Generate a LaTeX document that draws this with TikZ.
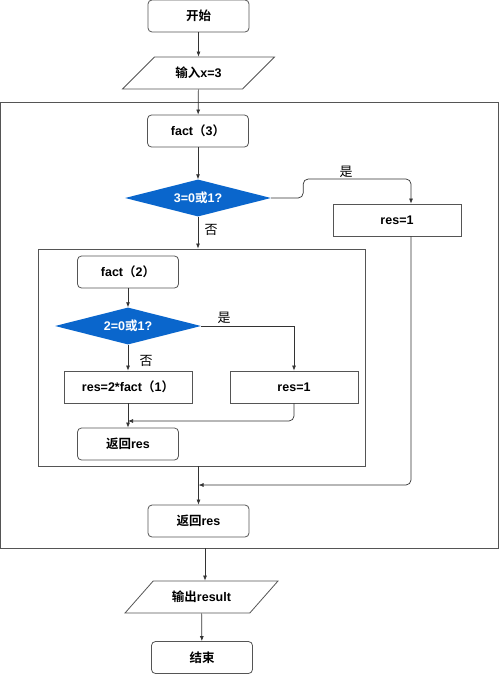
\documentclass[tikz,border=0pt]{standalone}
\usepackage{fontspec}
\setmainfont{Liberation Sans}
\newfontfamily\cjk{Noto Sans CJK SC}[BoldFont={Noto Sans CJK SC Bold}]
\newcommand{\zh}[1]{{\cjk #1}}
\usetikzlibrary{shapes.geometric,arrows.meta}
\definecolor{flowblue}{RGB}{10,102,204}
\definecolor{edgegray}{RGB}{85,85,85}
\begin{document}
\begin{tikzpicture}[
		x=1pt, y=-1pt,
		every node/.style={font=\bfseries\fontsize{12.5}{14}\selectfont},
		startend/.style={rectangle, draw=edgegray, line width=0.8pt, rounded corners=4pt, minimum width=101pt, minimum height=32pt},
		iobox/.style={trapezium, trapezium left angle=44, trapezium right angle=136, trapezium stretches=true, draw=edgegray, line width=0.8pt, minimum width=153pt, minimum height=32pt},
		procbox/.style={rectangle, draw=edgegray, line width=0.8pt, minimum width=128pt, minimum height=32pt},
		decision/.style={diamond, aspect=4, fill=flowblue, text=white, inner sep=0pt, minimum width=146pt, minimum height=37pt},
		frame/.style={rectangle, draw=edgegray, line width=0.9pt},
		lbl/.style={font=\fontsize{13}{15}\selectfont},
		flow/.style={draw=black!80, line width=0.7pt, -{Latex[length=5pt,width=4pt]}}
	]
	\useasboundingbox (0,0) rectangle (500,674);
	\node[frame, minimum width=498pt, minimum height=446pt] (outer) at (249.5,325) {};
	\node[frame, minimum width=327pt, minimum height=217pt] (inner) at (201.5,357.5) {};
	\node[startend] (start) at (198.5,16) {\zh{开始}};
	\node[iobox] (input) at (198.5,73) {\zh{输入}x=3};
	\node[startend] (fact3) at (198,131) {fact\zh{（}3\zh{）}};
	\node[decision] (dec3) at (198,198) {3=0\zh{或}1?};
	\node[procbox] (res3) at (397,220) {res=1};
	\node[startend] (fact2) at (128,272) {fact\zh{（}2\zh{）}};
	\node[decision] (dec2) at (128,326) {2=0\zh{或}1?};
	\node[procbox] (res2) at (128,387) {res=2*fact\zh{（}1\zh{）}};
	\node[procbox] (base2) at (294,387) {res=1};
	\node[startend] (ret2) at (128,444) {\zh{返回}res};
	\node[startend] (ret3) at (198.5,521) {\zh{返回}res};
	\node[iobox] (output) at (201.5,597) {\zh{输出}result};
	\node[startend] (stop) at (202,657.5) {\zh{结束}};
	\node[lbl] (yes3) at (346,172) {\zh{是}};
	\node[lbl] (no3) at (211,230) {\zh{否}};
	\node[lbl] (yes2) at (224,318) {\zh{是}};
	\node[lbl] (no2) at (146,361) {\zh{否}};
	\coordinate (up3) at (411,179);
	\coordinate (join2) at (128,421);
	\coordinate (join3) at (198.5,485);
	\draw[flow] (start) -- (input);
	\draw[flow] (input) -- (fact3);
	\draw[flow] (fact3) -- (dec3);
	\draw[flow, rounded corners=5pt] (dec3.east) -- ++(32,0) |- (up3) -- ([xshift=14pt]res3.north);
	\draw[flow] (dec3) -- (dec3 |- inner.north);
	\draw[flow] (fact2) -- (dec2);
	\draw[flow] (dec2.east) -| (base2.north);
	\draw[flow] (dec2) -- (res2);
	\draw[flow] (res2) -- (ret2);
	\draw[flow, rounded corners=5pt] (base2.south) |- (join2);
	\draw[flow] (ret3.north |- inner.south) -- (ret3);
	\draw[flow, rounded corners=5pt] ([xshift=14pt]res3.south) |- (join3);
	\draw[flow] ([xshift=3.5pt]output.north |- outer.south) -- ([xshift=3.5pt]output.north);
	\draw[flow] (output) -- (stop);
\end{tikzpicture}
\end{document}
